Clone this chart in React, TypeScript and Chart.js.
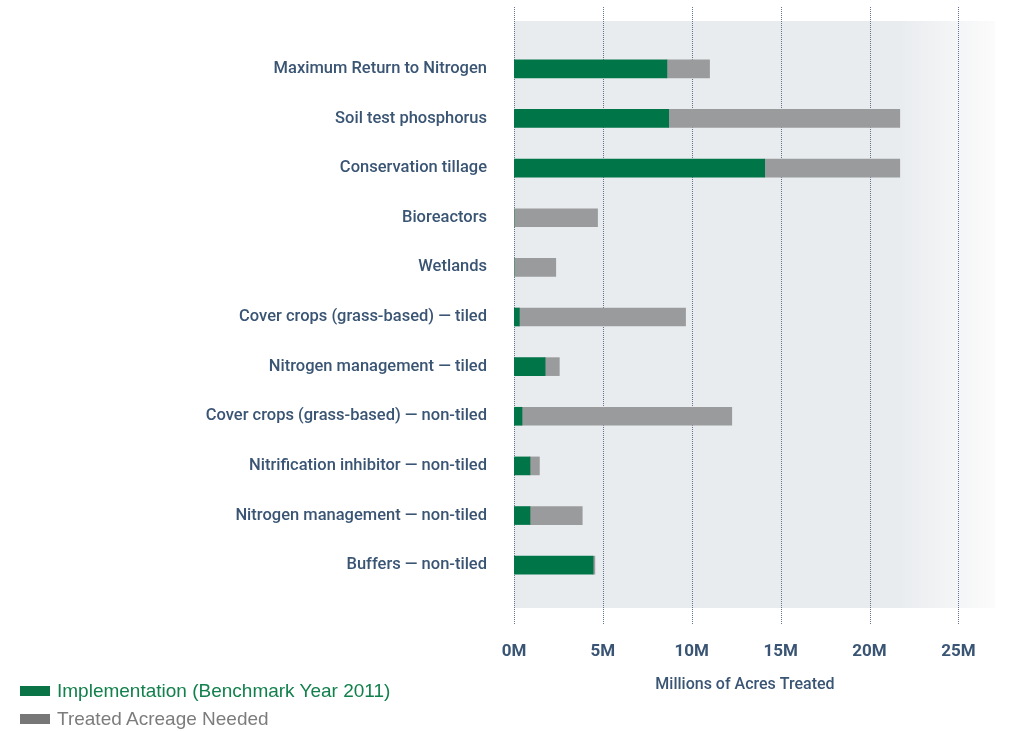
import React, { useEffect, useRef } from "react";
import { Chart, registerables } from "chart.js";

Chart.register(...registerables);

const categories = [
  "Maximum Return to Nitrogen",
  "Soil test phosphorus",
  "Conservation tillage",
  "Bioreactors",
  "Wetlands",
  "Cover crops (grass-based) — tiled",
  "Nitrogen management — tiled",
  "Cover crops (grass-based) — non-tiled",
  "Nitrification inhibitor — non-tiled",
  "Nitrogen management — non-tiled",
  "Buffers — non-tiled",
];

// millions of acres
const implementation = [8.6, 8.7, 14.1, 0, 0, 0.3, 1.75, 0.45, 0.9, 0.9, 4.45];
const additionalNeeded = [2.4, 13.0, 7.6, 4.7, 2.35, 9.35, 0.8, 11.8, 0.53, 2.94, 0.1];

const xTicks = [0, 5, 10, 15, 20, 25];
const xMax = 27;

const seriesNames = ["Implementation (Benchmark Year 2011)", "Treated Acreage Needed"];
const seriesColors = ["#007548", "#9a9b9c"];
const legendTextColors = ["#12804c", "#7c7c7c"];

const labelColor = "#3a5574";
const fontFamily = "Roboto, 'Liberation Sans', Arial, sans-serif";

export default function App() {
  const canvasRef = useRef<HTMLCanvasElement | null>(null);

  useEffect(() => {
    document.body.style.margin = "0";
    const canvas = canvasRef.current;
    if (!canvas) return;

    const bgPlugin = {
      id: "bgPlugin",
      beforeDatasetsDraw(chart: any) {
        const { ctx, chartArea, scales } = chart;
        const x0 = chartArea.left;
        const x1 = 995;
        const y0 = 21;
        const y1 = 608;
        ctx.save();
        const g = ctx.createLinearGradient(x0, 0, x1, 0);
        g.addColorStop(0, "#e9ecef");
        g.addColorStop(0.8, "#e9ecef");
        g.addColorStop(1, "#fbfbfb");
        ctx.fillStyle = g;
        ctx.fillRect(x0, y0, x1 - x0, y1 - y0);
        ctx.strokeStyle = "#63728f";
        ctx.lineWidth = 1;
        ctx.setLineDash([1, 1]);
        for (const v of xTicks) {
          const px = Math.round(scales.x.getPixelForValue(v)) + 0.5;
          ctx.beginPath();
          ctx.moveTo(px, 7);
          ctx.lineTo(px, 625);
          ctx.stroke();
        }
        ctx.restore();
      },
      afterDraw(chart: any) {
        const { ctx } = chart;
        ctx.save();
        ctx.font = `500 16px ${fontFamily}`;
        ctx.fillStyle = labelColor;
        ctx.textAlign = "center";
        ctx.textBaseline = "middle";
        ctx.fillText("Millions of Acres Treated", 745, 685);
        ctx.restore();
      },
    };

    const chart = new Chart(canvas, {
      type: "bar",
      data: {
        labels: categories,
        datasets: [
          {
            label: seriesNames[0],
            data: implementation,
            backgroundColor: seriesColors[0],
            barThickness: 18,
          },
          {
            label: seriesNames[1],
            data: additionalNeeded,
            backgroundColor: seriesColors[1],
            barThickness: 18,
          },
        ],
      },
      options: {
        indexAxis: "y",
        animation: false,
        responsive: false,
        maintainAspectRatio: false,
        layout: { padding: { top: 44, right: 21, bottom: 0, left: 0 } },
        plugins: {
          legend: { display: false },
          tooltip: { enabled: false },
        },
        scales: {
          x: {
            stacked: true,
            min: 0,
            max: xMax,
            border: { display: false },
            grid: { display: false, drawTicks: false },
            afterBuildTicks: (scale: any) => {
              scale.ticks = xTicks.map((v) => ({ value: v }));
            },
            afterFit: (scale: any) => {
              scale.height = 141;
              scale.paddingLeft = 0;
              scale.paddingRight = 0;
            },
            ticks: {
              padding: 52,
              color: labelColor,
              font: { family: fontFamily, size: 17, weight: "bold" },
              callback: (v: any) => `${v}M`,
            },
          },
          y: {
            stacked: true,
            border: { display: false },
            grid: { display: false, drawTicks: false },
            afterFit: (scale: any) => {
              scale.width = 514;
              scale.paddingTop = 0;
              scale.paddingBottom = 0;
            },
            ticks: {
              padding: 27,
              color: labelColor,
              font: { family: fontFamily, size: 16.5, weight: 500 },
            },
          },
        },
      },
      plugins: [bgPlugin],
    });

    return () => chart.destroy();
  }, []);

  return (
    <div style={{ position: "relative", width: 1015, height: 731 }}>
      <canvas ref={canvasRef} width={1015} height={731} style={{ display: "block" }} />
      <div
        style={{
          position: "absolute",
          left: 20,
          top: 677,
          fontFamily: "'Liberation Sans', Arial, sans-serif",
          fontSize: 19,
          lineHeight: "28px",
        }}
      >
        {seriesNames.map((name, i) => (
          <div key={name} style={{ display: "flex", alignItems: "center", color: legendTextColors[i] }}>
            <span
              style={{
                display: "inline-block",
                width: 30,
                height: 10,
                background: i === 0 ? "#0a7446" : "#777777",
                marginRight: 7,
              }}
            />
            {name}
          </div>
        ))}
      </div>
    </div>
  );
}
